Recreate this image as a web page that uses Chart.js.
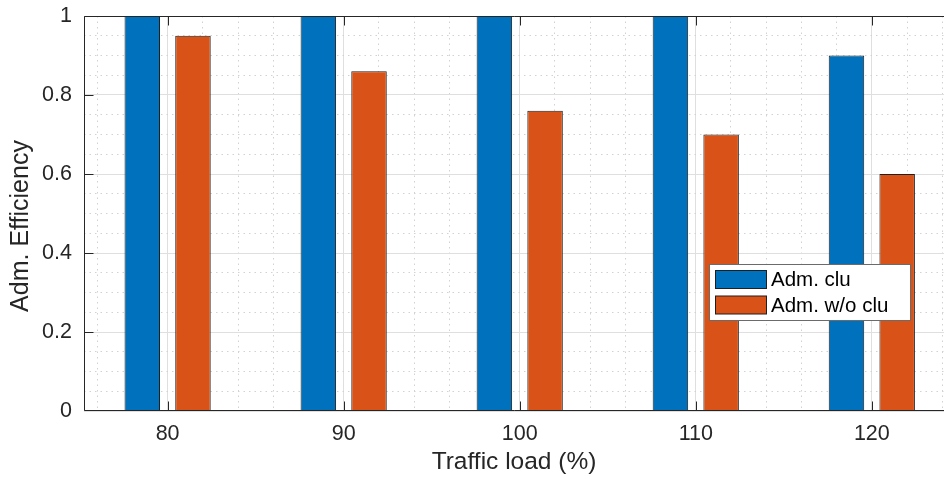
<!DOCTYPE html>
<html>
<head>
<meta charset="utf-8">
<title>Adm. Efficiency</title>
<script src="https://cdn.jsdelivr.net/npm/chart.js@4.4.0/dist/chart.umd.min.js"></script>
<style>
    html, body { margin: 0; padding: 0; background: #fff; overflow: hidden; }
    #wrap { width: 944px; height: 479px; position: relative; }
</style>
</head>
<body>
<div id="wrap"><canvas id="Chart"></canvas></div>
<script>
// values
const loads = [80, 90, 100, 110, 120]
const admClu = [1, 1, 1, 1, 0.9]
const admNoClu = [0.95, 0.86, 0.76, 0.70, 0.60]
const yTicks = [0, 0.2, 0.4, 0.6, 0.8, 1]
const seriesNames = ['Adm. clu', 'Adm. w/o clu']
const yTitle = 'Adm. Efficiency'

const FONT = "'Liberation Sans', Arial, Helvetica, sans-serif"
const INK = '#262626'

// minor grid positions (every 2 on x, every 0.05 on y, skipping the major ones)
const xMinor = []
for (let v = 76; v <= 124; v += 2) { if (v % 10 !== 0) xMinor.push(v) }
const yMinor = []
for (let k = 1; k < 20; k++) { if (k % 4 !== 0) yMinor.push(k / 20) }

// axes box + inward tick marks, drawn on top of the bars like matlab does
const boxAndTicks = {
    id: 'boxAndTicks',
    afterDatasetsDraw(chart) {
        const {ctx, chartArea: a, scales: {x, y}} = chart
        const L = Math.round(a.left) + 0.5
        const T = Math.round(a.top) + 0.5
        const B = Math.round(a.bottom) - 0.5
        ctx.save()
        ctx.strokeStyle = INK
        ctx.lineWidth = 1
        ctx.beginPath()
        ctx.moveTo(a.right + 2, T); ctx.lineTo(L, T); ctx.lineTo(L, B); ctx.lineTo(a.right + 2, B)
        yTicks.forEach(v => {
            const py = Math.round(y.getPixelForValue(v)) + (v === 0 ? -0.5 : 0.5)
            ctx.moveTo(L, py); ctx.lineTo(L + 9, py)
        })
        loads.forEach(v => {
            const px = Math.round(x.getPixelForValue(v)) + 0.5
            ctx.moveTo(px, B); ctx.lineTo(px, B - 9)
            ctx.moveTo(px, T); ctx.lineTo(px, T + 9)
        })
        ctx.stroke()

        // y label, sits a bit below the axes centre in the original
        ctx.fillStyle = INK
        ctx.font = '25px ' + FONT
        ctx.textAlign = 'center'
        ctx.textBaseline = 'middle'
        ctx.translate(21, 226)
        ctx.rotate(-Math.PI / 2)
        ctx.fillText(yTitle, 0, 0)
        ctx.restore()
    }
}

// legend box sitting inside the axes, lower right
const boxLegend = {
    id: 'boxLegend',
    afterDraw(chart) {
        const ctx = chart.ctx
        const bx = 709.5, by = 264.5, bw = 201, bh = 56
        ctx.save()
        ctx.fillStyle = '#fff'
        ctx.fillRect(bx, by, bw, bh)
        ctx.strokeStyle = '#6b6b6b'
        ctx.lineWidth = 1
        ctx.strokeRect(bx, by, bw, bh)
        ctx.font = '20.5px ' + FONT
        ctx.textBaseline = 'middle'
        ctx.textAlign = 'left'
        chart.data.datasets.forEach((ds, i) => {
            const sy = 270.5 + i * 25.5
            ctx.fillStyle = ds.backgroundColor
            ctx.fillRect(715.5, sy, 51, 18)
            ctx.strokeStyle = ds.borderColor
            ctx.strokeRect(715.5, sy, 51, 18)
            ctx.fillStyle = '#000'
            ctx.fillText(ds.label, 771, sy + 10)
        })
        ctx.restore()
    }
}

const ctx = document.getElementById('Chart').getContext('2d')
const myChart = new Chart(ctx, {
    type: 'bar',
    data: {
        datasets: [{
            label: seriesNames[0],
            data: loads.map((v, i) => ({x: v, y: admClu[i]})),
            backgroundColor: '#0072BD',
            borderColor: '#1f1f1f',
            borderWidth: 1
        }, {
            label: seriesNames[1],
            data: loads.map((v, i) => ({x: v, y: admNoClu[i]})),
            backgroundColor: '#D95319',
            borderColor: '#1f1f1f',
            borderWidth: 1
        }]
    },
    options: {
        responsive: true,
        maintainAspectRatio: false,
        animation: false,
        categoryPercentage: 0.576,
        barPercentage: 0.7,
        layout: { padding: { top: 16, left: 0, right: 0, bottom: 0 } },
        plugins: {
            legend: { display: false },
            tooltip: { enabled: false }
        },
        scales: {
            x: {
                type: 'linear',
                position: 'bottom',
                min: 75.25,
                max: 124.1,
                offset: false,
                afterBuildTicks: s => { s.ticks = loads.map(v => ({value: v})) },
                afterFit: s => { s.height = 68; s.paddingLeft = 0; s.paddingRight = 0 },
                grid: { offset: false, color: '#dfdfdf', drawTicks: false },
                border: { display: false },
                ticks: {
                    padding: 10,
                    color: INK,
                    font: { family: FONT, size: 21.5 },
                    maxRotation: 0,
                    callback: v => String(v)
                },
                title: {
                    display: true,
                    text: 'Traffic load (%)',
                    color: INK,
                    font: { family: FONT, size: 24.5 },
                    padding: { top: 0, bottom: 2 }
                }
            },
            xMinor: {
                type: 'linear',
                position: 'bottom',
                min: 75.25,
                max: 124.1,
                offset: false,
                afterBuildTicks: s => { s.ticks = xMinor.map(v => ({value: v})) },
                afterFit: s => { s.height = 0; s.paddingLeft = 0; s.paddingRight = 0 },
                grid: { offset: false, color: '#d2d2d2', drawTicks: false },
                border: { display: false, dash: [1.5, 4] },
                ticks: { display: false }
            },
            y: {
                type: 'linear',
                position: 'left',
                min: 0,
                max: 1,
                afterBuildTicks: s => { s.ticks = yTicks.map(v => ({value: v})) },
                afterFit: s => { s.width = 84; s.paddingTop = 0; s.paddingBottom = 0 },
                grid: { color: '#dfdfdf', drawTicks: false },
                border: { display: false },
                ticks: {
                    padding: 12,
                    color: INK,
                    font: { family: FONT, size: 21.5 },
                    callback: v => String(v)
                },
                title: { display: false }
            },
            yMinor: {
                type: 'linear',
                position: 'left',
                min: 0,
                max: 1,
                afterBuildTicks: s => { s.ticks = yMinor.map(v => ({value: v})) },
                afterFit: s => { s.width = 0; s.paddingTop = 0; s.paddingBottom = 0 },
                grid: { color: '#d2d2d2', drawTicks: false },
                border: { display: false, dash: [1.5, 4] },
                ticks: { display: false }
            }
        }
    },
    plugins: [boxAndTicks, boxLegend]
})
</script>
</body>
</html>
